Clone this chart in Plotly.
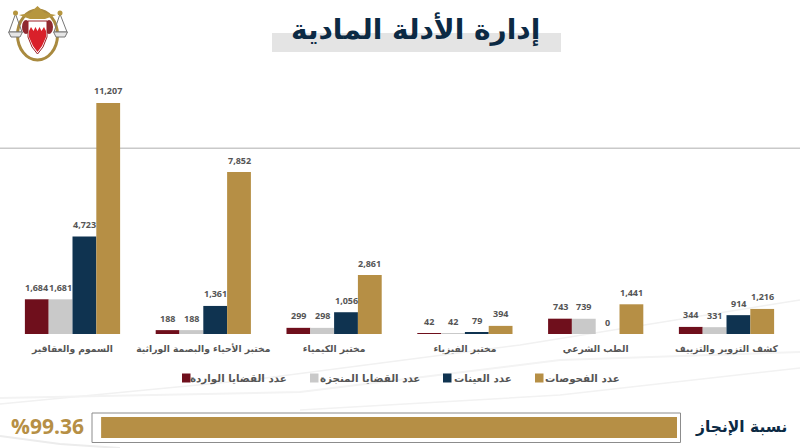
import plotly.graph_objects as go

W, H = 800, 448

categories = ["السموم والعقاقير", "مختبر الأحياء والبصمة الوراثية", "مختبر الكيمياء",
              "مختبر الفيزياء", "الطب الشرعي", "كشف التزوير والتزييف"]
cases_received = [1684, 188, 299, 42, 743, 344]
cases_completed = [1681, 188, 298, 42, 739, 331]
samples = [4723, 1361, 1056, 79, 0, 914]
examinations = [11207, 7852, 2861, 394, 1441, 1216]
completion_rate = 99.36

series_names = ["عدد القضايا الواردة", "عدد القضايا المنجزة", "عدد العينات", "عدد الفحوصات"]
series_values = [cases_received, cases_completed, samples, examinations]
series_colors = ["#6f0f1c", "#c9c9c9", "#0f3350", "#b68f45"]

title_text = "إدارة الأدلة المادية"
rate_label = "نسبة الإنجاز"
rate_text = "%99.36"

NAVY = "#0c2a44"
TEXT = "#555555"
FONT = "'Open Sans', 'DejaVu Sans', sans-serif"
AR_FONT = "'DejaVu Sans', sans-serif"


def px(x):
    return x / W


def py(y):
    return 1 - y / H


def rect(x0, y0, x1, y1, **kw):
    return dict(type="rect", xref="paper", yref="paper", x0=px(x0), x1=px(x1),
                y0=py(y1), y1=py(y0), layer=kw.pop("layer", "below"), **kw)


def path(points, closed=True, **kw):
    d = "M" + " L".join(f"{px(x):.5f},{py(y):.5f}" for x, y in points) + (" Z" if closed else "")
    return dict(type="path", xref="paper", yref="paper", path=d, layer=kw.pop("layer", "above"), **kw)


def blob(cx, cy, rx, ry, **kw):
    return dict(type="circle", xref="paper", yref="paper", x0=px(cx - rx), x1=px(cx + rx),
                y0=py(cy + ry), y1=py(cy - ry), layer="above", **kw)


def page_text(x, y, text, size, color, family=AR_FONT, xanchor="center"):
    return dict(x=px(x), y=py(y), xref="paper", yref="paper", text=text, showarrow=False,
                xanchor=xanchor, yanchor="middle",
                font=dict(family=family, size=size, color=color, weight="bold"))


fig = go.Figure()

for name, vals, color in zip(series_names, series_values, series_colors):
    fig.add_trace(go.Bar(x=categories, y=vals, name=name, marker_color=color,
                         marker_line_width=0, showlegend=False, xaxis="x", yaxis="y"))

# Progress bar fills from the right, so its axis runs in reverse
fig.add_trace(go.Bar(x=[completion_rate], y=[rate_label], orientation="h",
                     marker_color=series_colors[3], marker_line_width=0,
                     width=1, showlegend=False, xaxis="x2", yaxis="y2"))

annotations = []
bar_step = 23.8
for i, vals in enumerate(series_values):
    for cat, v in zip(categories, vals):
        annotations.append(dict(x=cat, y=v, xref="x", yref="y", text=f"{v:,}", showarrow=False,
                                xshift=(i - 1.5) * bar_step, yshift=12,
                                font=dict(family=FONT, size=9, color=TEXT, weight="bold")))

annotations += [
    page_text(415, 29, title_text, 28, NAVY),
    page_text(741, 427, rate_label, 15.5, NAVY),
    page_text(47, 426, rate_text, 21, series_colors[3], family=FONT),
]

# Key entries: swatch to the left of each right-aligned label
legend_text_right = [289, 422, 514, 622]
legend_swatch_left = [182, 310, 443, 535]
for name, right in zip(series_names, legend_text_right):
    annotations.append(page_text(right, 378, name, 10.3, TEXT, xanchor="right"))

shapes = [
    # Faint background sweeps
    path([(0, 404), (250, 380), (520, 345), (800, 300)], closed=False, line=dict(color="#f1f1f1", width=1.5), layer="below"),
    path([(0, 398), (300, 392), (560, 360), (800, 352)], closed=False, line=dict(color="#f3f3f3", width=2), layer="below"),
    path([(300, 410), (560, 395), (800, 368)], closed=False, line=dict(color="#f2f2f2", width=1.5), layer="below"),
    path([(0, 436), (60, 444), (120, 448)], closed=False, line=dict(color="#ececec", width=2), layer="below"),
    # Title underlay and divider
    rect(272, 33, 561, 52, fillcolor="#e4e4e4", line_width=0),
    rect(0, 147.5, 800, 149, fillcolor="#c9c9c9", line_width=0),
    # Progress track
    rect(92, 413, 680.5, 442.5, fillcolor="#ffffff", line=dict(color="#8c8c8c", width=1)),
    # Emblem: ring, crown, mantling, shield and scales
    blob(37.5, 35, 20, 25, fillcolor="#ffffff", line=dict(color="#a98a3f", width=3)),
    path([(19, 15), (30, 13), (37.5, 6), (45, 13), (56, 15), (45, 19), (30, 19)], fillcolor="#b6963f", line_width=0),
    blob(26, 27, 4, 7, fillcolor="#8f2a30", line_width=0),
    blob(49, 27, 4, 7, fillcolor="#8f2a30", line_width=0),
    path([(28, 21), (47, 21), (47, 37), (43, 47), (37.5, 54), (32, 47), (28, 37)], fillcolor="#ffffff", line=dict(color="#9a2026", width=1)),
    path([(29, 31), (31, 27), (33.5, 31), (35.5, 27), (37.5, 31), (39.5, 27), (41.5, 31), (44, 27), (46, 31), (46, 37), (42, 46), (37.5, 52), (33, 46), (29, 37)],
         fillcolor="#d9202a", line_width=0),
    path([(15.5, 14), (9, 32), (22, 32), (15.5, 14)], closed=False, line=dict(color="#777777", width=1)),
    path([(60, 14), (54, 32), (67, 32), (60, 14)], closed=False, line=dict(color="#777777", width=1)),
    path([(8.5, 32), (11, 37), (20, 37), (22.5, 32)], fillcolor="#e6e6e6", line=dict(color="#777777", width=1)),
    path([(53.5, 32), (56, 37), (65, 37), (67.5, 32)], fillcolor="#e6e6e6", line=dict(color="#777777", width=1)),
    blob(15.5, 13, 2.5, 2.5, fillcolor="#b6963f", line_width=0),
    blob(60, 13, 2.5, 2.5, fillcolor="#b6963f", line_width=0),
]
for left, color in zip(legend_swatch_left, series_colors):
    shapes.append(rect(left, 373.5, left + 8.5, 382.5, fillcolor=color, line_width=0))

fig.update_layout(
    width=W, height=H, autosize=False,
    margin=dict(l=0, r=0, t=0, b=0),
    paper_bgcolor="#ffffff", plot_bgcolor="rgba(0,0,0,0)",
    barmode="group", bargap=0.272, bargroupgap=0,
    font=dict(family=AR_FONT, color=TEXT),
    showlegend=False,
    xaxis=dict(domain=[px(7.1), px(791.9)], anchor="y", showgrid=False, zeroline=False, showline=False,
               ticks="", categoryorder="array", categoryarray=categories, fixedrange=True,
               ticklabelstandoff=8,
               tickfont=dict(family=AR_FONT, size=9.2, color=TEXT, weight="bold")),
    yaxis=dict(domain=[py(334), py(90)], range=[0, 244 * 48.5], visible=False, fixedrange=True),
    xaxis2=dict(domain=[px(97.4), px(677)], range=[100, 0], anchor="y2", visible=False, fixedrange=True),
    yaxis2=dict(domain=[py(438), py(417)], anchor="x2", visible=False, fixedrange=True),
    annotations=annotations,
    shapes=shapes,
)

fig.write_html("out.html", config={"displayModeBar": False})
